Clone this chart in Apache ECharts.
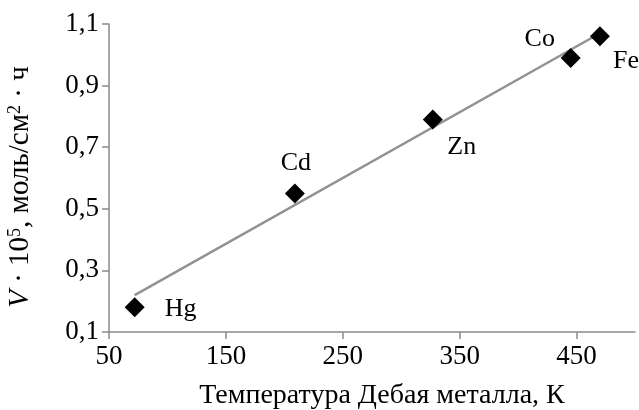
<!DOCTYPE html>
<html>
<head>
<meta charset="utf-8">
<script src="https://cdn.jsdelivr.net/npm/echarts@6/dist/echarts.min.js"></script>
<style>
  html, body { margin: 0; padding: 0; background: #fff; }
  #chart { width: 639px; height: 410px; }
</style>
</head>
<body>
<div id="chart"></div>
<script>
// Metals and their Debye temperatures (K) vs. rate V·10^5, mol/(cm²·h)
const metals = ['Hg', 'Cd', 'Zn', 'Co', 'Fe'];
const debyeTemp = [72, 209, 327, 445, 470];
const rate = [0.18, 0.55, 0.79, 0.99, 1.06];

// Straight trend line endpoints
const trendX = [72, 470];
const trendY = [0.22, 1.07];

// Axis tick values
const xTicks = [50, 150, 250, 350, 450];
const yTicks = [0.1, 0.3, 0.5, 0.7, 0.9, 1.1];

// Label placement around each marker
const labelOffsets = {
  Hg: [46, 2],
  Cd: [1, -30],
  Zn: [29, 28],
  Co: [-31, -19],
  Fe: [26, 25]
};

const FONT = '"Liberation Serif", "DejaVu Serif", serif';
const AXIS_GRAY = '#8a8a8a';
const TEXT = '#000';

const chart = echarts.init(document.getElementById('chart'), null, { renderer: 'canvas' });

const fmt = v => Number(v).toFixed(1).replace('.', ',');

chart.setOption({
  animation: false,
  backgroundColor: '#ffffff',
  grid: { left: 109, right: 4, top: 24, bottom: 78, containLabel: false, outerBoundsMode: 'none' },
  xAxis: {
    type: 'value',
    min: 50,
    max: 500,
    name: 'Температура Дебая металла, К',
    nameLocation: 'middle',
    nameGap: 50,
    nameTextStyle: { fontFamily: FONT, fontSize: 28, color: TEXT, padding: [0, 0, 0, 20] },
    axisLine: { show: true, onZero: false, lineStyle: { color: AXIS_GRAY, width: 1.5 } },
    axisTick: { show: true, length: 7, customValues: xTicks, lineStyle: { color: AXIS_GRAY, width: 1.5 } },
    axisLabel: { customValues: xTicks, margin: 11, fontFamily: FONT, fontSize: 27, color: TEXT },
    splitLine: { show: false }
  },
  yAxis: {
    type: 'value',
    min: 0.1,
    max: 1.1,
    name: '{i|V} · 10{s|5}, моль/см{s|2} · ч',
    nameLocation: 'middle',
    nameGap: 74,
    nameRotate: 90,
    nameTextStyle: {
      fontFamily: FONT, fontSize: 29, color: TEXT, padding: [0, 18, 0, 0],
      rich: {
        i: { fontFamily: FONT, fontSize: 29, fontStyle: 'italic', color: TEXT },
        s: { fontFamily: FONT, fontSize: 18, color: TEXT, verticalAlign: 'top' }
      }
    },
    axisLine: { show: true, onZero: false, lineStyle: { color: AXIS_GRAY, width: 1.5 } },
    axisTick: { show: true, length: 7, customValues: yTicks, lineStyle: { color: AXIS_GRAY, width: 1.5 } },
    axisLabel: { customValues: yTicks, margin: 10, fontFamily: FONT, fontSize: 27, color: TEXT, formatter: fmt },
    splitLine: { show: false }
  },
  series: [
    {
      type: 'line',
      data: trendX.map((x, i) => [x, trendY[i]]),
      symbol: 'none',
      lineStyle: { color: '#929292', width: 2.5 },
      z: 1,
      silent: true
    },
    {
      type: 'scatter',
      symbol: 'diamond',
      symbolSize: 20,
      itemStyle: { color: '#000', opacity: 1 },
      z: 2,
      data: metals.map((m, i) => ({
        name: m,
        value: [debyeTemp[i], rate[i]],
        label: {
          show: true,
          position: 'inside',
          offset: labelOffsets[m],
          formatter: '{b}',
          fontFamily: FONT,
          fontSize: 26,
          color: TEXT
        }
      }))
    }
  ]
});
</script>
</body>
</html>
